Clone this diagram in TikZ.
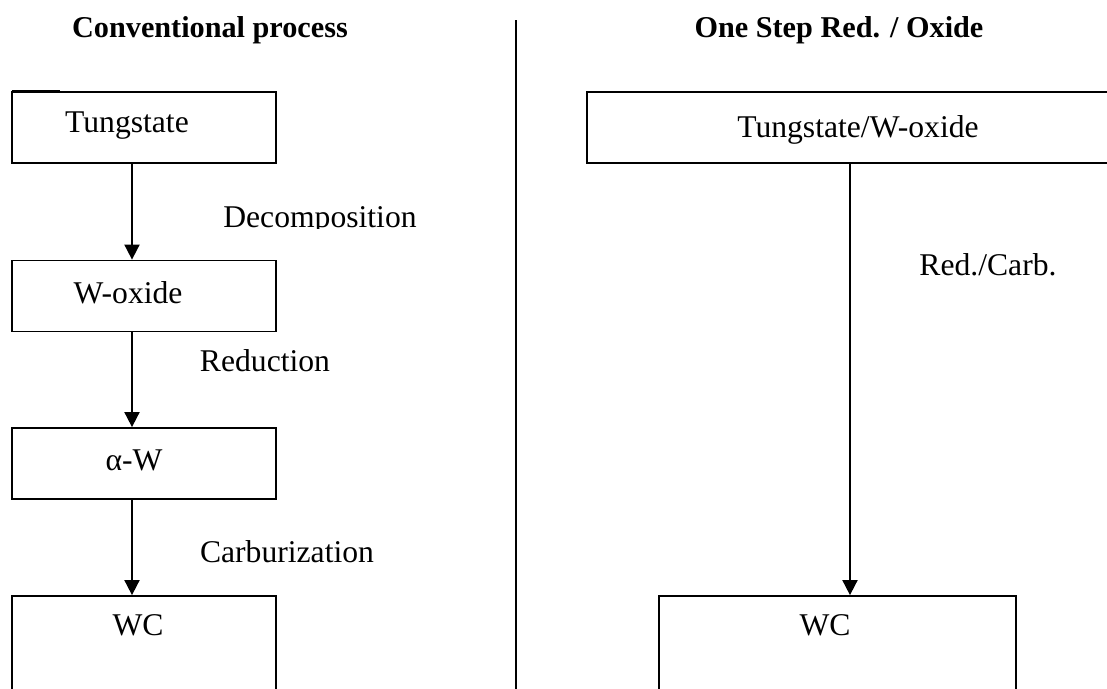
\documentclass[tikz,border=0pt]{standalone}
\usepackage{fontspec}
\setmainfont{Liberation Serif}
\usetikzlibrary{arrows.meta,positioning}

\begin{document}
\begin{tikzpicture}[
    box/.style={draw, line width=0.5pt, minimum width=2.64cm, minimum height=0.71cm, inner sep=0pt},
    flow/.style={-{Triangle[length=4.3pt,width=4.3pt]}, line width=0.5pt},
    lbl/.style={anchor=base, inner sep=0pt, font=\fontsize{9}{11}\selectfont},
    head/.style={lbl, font=\fontsize{8.6}{11}\selectfont\bfseries}
]
    %%Background
    \useasboundingbox (0,0) rectangle (11.07,-6.89);

    %%Headers
    \node[head] (hconv) at (2.10,-0.37) {Conventional process};
    \node[head] (hone) at (8.39,-0.37) {One Step Red. / Oxide};
    \draw[line width=0.5pt] (5.16,-0.20) -- (5.16,-6.95);

    %%Conventional process
    \node[box] (tung) at (1.44,-1.275) {};
    \node[box] (wox) at (1.44,-2.96) {};
    \node[box] (alw) at (1.44,-4.635) {};
    \node[box, minimum height=1.5cm] (wc1) at (1.44,-6.71) {};
    \draw[line width=0.6pt] (0.12,-0.915) -- (0.60,-0.915);

    \draw[flow] ([xshift=-1.2mm]tung.south) -- ([xshift=-1.2mm]wox.north);
    \draw[flow] ([xshift=-1.2mm]wox.south) -- ([xshift=-1.2mm]alw.north);
    \draw[flow] ([xshift=-1.2mm]alw.south) -- ([xshift=-1.2mm]wc1.north);

    %%One step
    \node[box, minimum width=5.43cm] (tw) at (8.585,-1.275) {};
    \node[box, minimum width=3.57cm, minimum height=1.5cm] (wc2) at (8.375,-6.71) {};
    \draw[flow] ([xshift=-0.85mm]tw.south) -- ([xshift=1.25mm]wc2.north);

    %% Note
    \node[lbl] (ttung) at (1.27,-1.32) {Tungstate};
    \node[lbl] (twox) at (1.28,-3.03) {W-oxide};
    \node[lbl] (talw) at (1.34,-4.70) {α-W};
    \node[lbl] (twc1) at (1.38,-6.35) {WC};
    \node[lbl] (ttw) at (8.58,-1.37) {Tungstate/W-oxide};
    \node[lbl] (twc2) at (8.25,-6.35) {WC};

    \begin{scope}
        \clip (2.0,-1.9) rectangle (4.6,-2.28);
        \node[lbl] (tdec) at (3.20,-2.27) {Decomposition};
    \end{scope}
    \node[lbl] (tred) at (2.65,-3.71) {Reduction};
    \node[lbl] (tcarb) at (2.87,-5.62) {Carburization};
    \node[lbl] (trc) at (9.88,-2.75) {Red./Carb.};
\end{tikzpicture}
\end{document}
